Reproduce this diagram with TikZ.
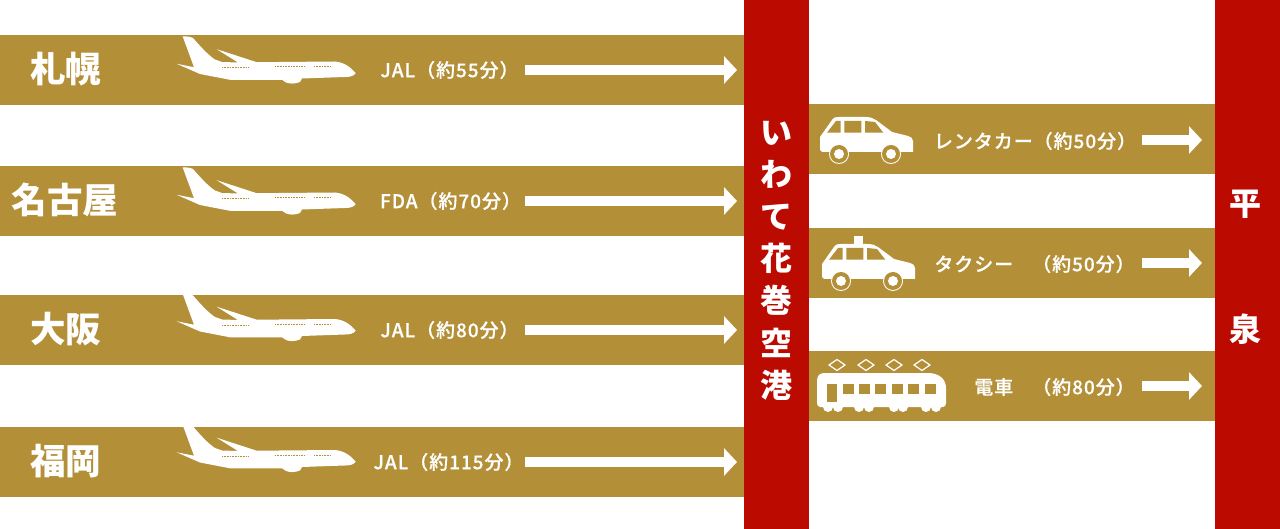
\documentclass[tikz,border=0pt]{standalone}
\usepackage{fontspec}
\newfontfamily\cjk{Noto Sans CJK JP}
\newfontfamily\cjkmed{Noto Sans CJK JP Medium}[LetterSpace=5, FakeBold=0.4]
\usetikzlibrary{arrows.meta}
\definecolor{bandgold}{HTML}{B38F38}
\definecolor{barred}{HTML}{BB0A00}
\tikzset{
  band/.style={fill=bandgold, inner sep=0pt, anchor=north west, minimum height=70pt},
  redbar/.style={fill=barred, inner sep=0pt, anchor=north west, minimum width=65pt, minimum height=529pt},
  cityname/.style={text=white, font=\cjk\bfseries\fontsize{35.5}{38}\selectfont},
  barname/.style={text=white, font=\cjk\bfseries\fontsize{32}{42.2}\selectfont, align=center, inner sep=0pt},
  timelabel/.style={text=white, font=\cjkmed\fontsize{19}{22}\selectfont, inner sep=0pt},
  bigarrow/.style={draw=white, line width=10.5pt, -{Triangle[length=13pt,width=27pt]}},
  jetplane/.pic={
    \fill[white] (182.7,-33.5) .. controls (187,-34) and (191,-33) .. (193,-32) .. controls (200,-24) and (208,-15) .. (215,-10.5)
      -- (222,-8) -- (238,-7.5) -- (216.7,-20.8) -- (256.7,-7.8)
      -- (335,-8.5) .. controls (346,-7.5) and (352,-1) .. (355.7,3.2) .. controls (354,6) and (350,7) .. (345,7)
      -- (302,8.5) -- (300,12) .. controls (295,14) and (290,14) .. (286,12.5) -- (282,9.8) -- (230,9.8) -- (200,4)
      -- (176.7,-6.2) -- (194,-2.8) -- cycle;
    \draw[bandgold, line width=0.6pt, dash pattern=on 0.8pt off 0.8pt]
      (222,-2.5) -- (248,-2.5) (275,-3.5) -- (304,-3.5) (314,-3.5) -- (331,-3.5);
  },
  carbody/.pic={
    \fill[white] (820,150) -- (820,137) -- (832,120) .. controls (834,117) and (836,117) .. (839,117) -- (865,117)
      .. controls (870,117) and (873,118) .. (876,120) -- (892,132) -- (908,136) .. controls (911,137) and (913,138) .. (913,141)
      -- (913,152) -- (822,152) -- cycle;
    \fill[bandgold] (827,132.7) -- (840.7,132.7) -- (840.7,121) -- (836,121) -- cycle
      (844.3,121) rectangle (861.3,132.7)
      (865,121) -- (875,122) -- (883.3,132.7) -- (865,132.7) -- cycle;
    \foreach \wx in {839,891} {
      \fill[white] (\wx,154) circle (10);
      \fill[bandgold] (\wx,154) circle (9);
      \fill[white] (\wx,154) circle (5);
    }
  },
  tramcar/.pic={
    \fill[white] (820,407) .. controls (818,407) and (817,405) .. (817,403) -- (817,381)
      .. controls (817,375) and (820,373) .. (825,373) -- (928,373)
      .. controls (940,373) and (946,380) .. (946,388) -- (946,403) .. controls (946,405) and (945,407) .. (943,407) -- cycle;
    \foreach \wx in {828,838,859,869,894,903,926,936}
      \fill[white] (\wx,407) circle (5);
    \fill[bandgold] (827,384) rectangle (837,402);
    \foreach \wx in {843,859,875,892,908,925}
      \fill[bandgold] (\wx,384) rectangle (\wx+11,394);
    \foreach \wx in {837,866,894,922}
      \draw[white, line width=1.2pt] (\wx-8,365) -- (\wx,359.5) -- (\wx+8,365) -- (\wx,370.5) -- cycle;
  }
}
\begin{document}
\begin{tikzpicture}[x=1pt, y=-1pt]
  \useasboundingbox (0,0) rectangle (1280,529);
  % bands on the left
  \foreach \i/\y in {1/35, 2/166, 3/295, 4/427} {
    \node[band, minimum width=744pt] (leftband\i) at (0,\y) {};
  }
  % bands on the right
  \foreach \i/\y in {1/104, 2/228, 3/351} {
    \node[band, minimum width=406pt] (rightband\i) at (809,\y) {};
  }
  \node[redbar] (hanamaki) at (744,0) {};
  \node[redbar] (hiraizumi) at (1215,0) {};
  \node[barname] (hanamakiname) at (776,260.5) {い\\わ\\て\\花\\巻\\空\\港};
  \node[barname] (hiraname) at (1245,204) {平};
  \node[barname] (izuminame) at (1245,329) {泉};
  % flights
  \foreach \i/\y/\py/\city/\cx/\time/\tx in {1/70/70/札幌/66/JAL（約55分）/449.5, 2/201/201/名古屋/65/FDA（約70分）/450.5,
      3/330/327.5/大阪/66/JAL（約80分）/449.5, 4/462/458.5/福岡/66/JAL（約115分）/448.5} {
    \node[cityname] (city\i) at (\cx,\y-1) {\city};
    \pic at (0,\py) {jetplane};
    \node[timelabel] (flight\i) at (\tx,\y) {\time};
    \coordinate (flightstart\i) at (525,\y);
    \draw[bigarrow, shorten >=7pt] (flightstart\i) -- (flightstart\i -| hanamaki.west);
  }
  % ground routes
  \pic at (0,0) {carbody};
  \pic at (2,127) {carbody};
  \node[fill=white, minimum width=9pt, minimum height=8pt, inner sep=0pt, anchor=south] (taxisign) at (858.5,244) {};
  \pic at (0,0) {tramcar};
  \foreach \i/\y/\time/\tx in {1/140/レンタカー（約50分）/1035, 2/263/タクシー\quad（約50分）/1034.5, 3/386/電車\quad（約80分）/1054.5} {
    \node[timelabel] (ground\i) at (\tx,\y+1) {\time};
    \coordinate (groundstart\i) at (1142,\y);
    \draw[bigarrow] (groundstart\i) -- (1202,\y);
  }
\end{tikzpicture}
\end{document}
